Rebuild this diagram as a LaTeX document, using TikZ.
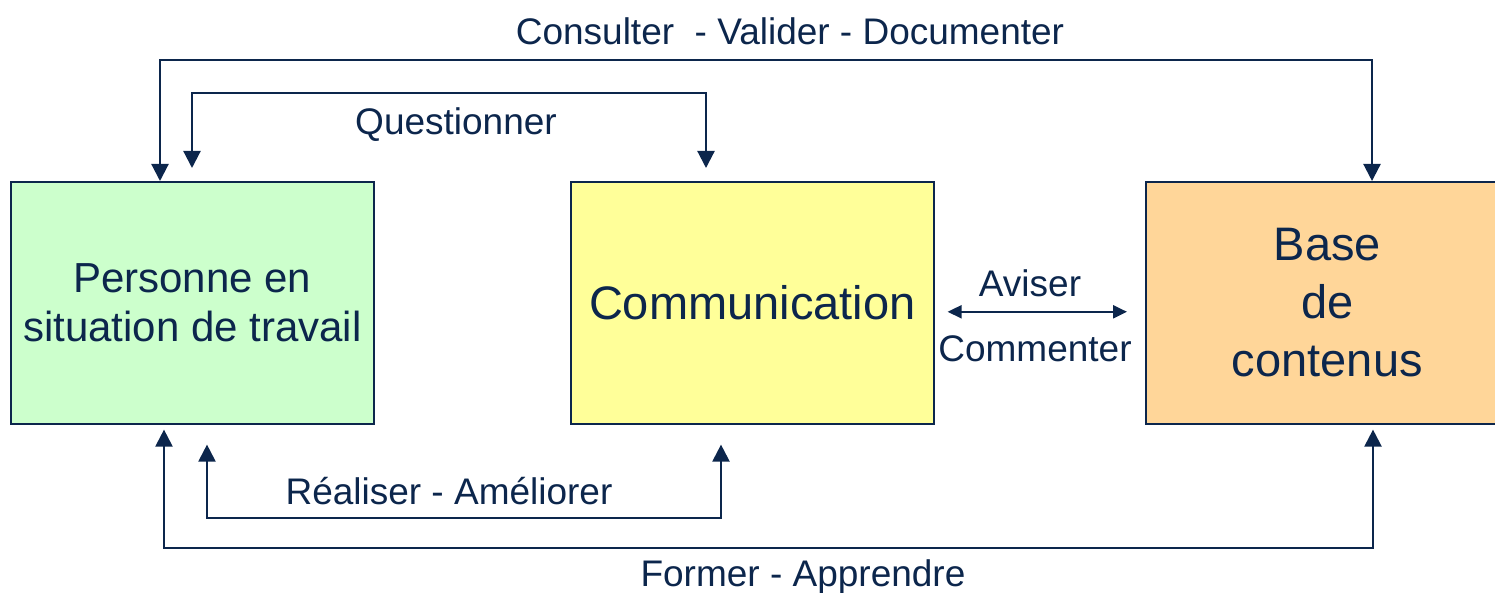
\documentclass[tikz,border=0pt]{standalone}
\usepackage{fontspec}
\setmainfont{Liberation Sans}
\usetikzlibrary{arrows.meta,calc}
\definecolor{navy}{RGB}{12,38,76}
\definecolor{bgreen}{RGB}{204,255,204}
\definecolor{byellow}{RGB}{255,255,153}
\definecolor{borange}{RGB}{255,214,153}
\tikzset{
  box/.style={draw=navy, line width=1.6pt, minimum width=363pt, minimum height=242pt, inner sep=0pt, align=center, text=navy, anchor=north west},
  link/.style={draw=navy, line width=2.2pt, {Triangle[width=17pt,length=17pt]}-{Triangle[width=17pt,length=17pt]}},
  slink/.style={draw=navy, line width=2.2pt, {Triangle[width=13pt,length=14pt]}-{Triangle[width=13pt,length=14pt]}},
  lbl/.style={text=navy, font=\fontsize{37}{44}\selectfont, inner sep=0pt}
}
\begin{document}
\begin{tikzpicture}[x=1pt,y=-1pt]
\useasboundingbox (0,0) rectangle (1495,593);
\clip (0,0) rectangle (1495,593);
\node[box, fill=bgreen, font=\fontsize{42}{49}\selectfont] (pers) at (10,181) {Personne en\\situation de travail};
\node[box, fill=byellow, font=\fontsize{47}{58}\selectfont] (comm) at (570,181) {Communication};
\node[box, fill=borange, font=\fontsize{47}{58}\selectfont] (base) at (1145,181) {Base\\de\\contenus};
% connectors
\draw[link] ([xshift=150]pers.north west) -- ++(0,-121) -| ([xshift=227]base.north west);
\draw[link] ([xshift=182,yshift=13]pers.north west) -- ++(0,-75) -| ([xshift=136,yshift=13]comm.north west);
\draw[link] ([xshift=197,yshift=-20]pers.south west) -- ++(0,73) -| ([xshift=151,yshift=-20]comm.south west);
\draw[link] ([xshift=154,yshift=-5]pers.south west) -- ++(0,118) -| ([xshift=228,yshift=-5]base.south west);
\draw[slink] ([xshift=13,yshift=-9]comm.east) -- ([xshift=-18,yshift=-9]base.west);
% labels
\node[lbl] (l1) at (790,31) {Consulter\ \ - Valider - Documenter};
\node[lbl] (l2) at (456,125) {Questionner};
\node[lbl] (l3) at (449,491) {Réaliser - Améliorer};
\node[lbl] (l4) at (803,577) {Former - Apprendre};
\node[lbl] (l5) at (1030,283) {Aviser};
\node[lbl] (l6) at (1035,349) {Commenter};
\end{tikzpicture}
\end{document}
